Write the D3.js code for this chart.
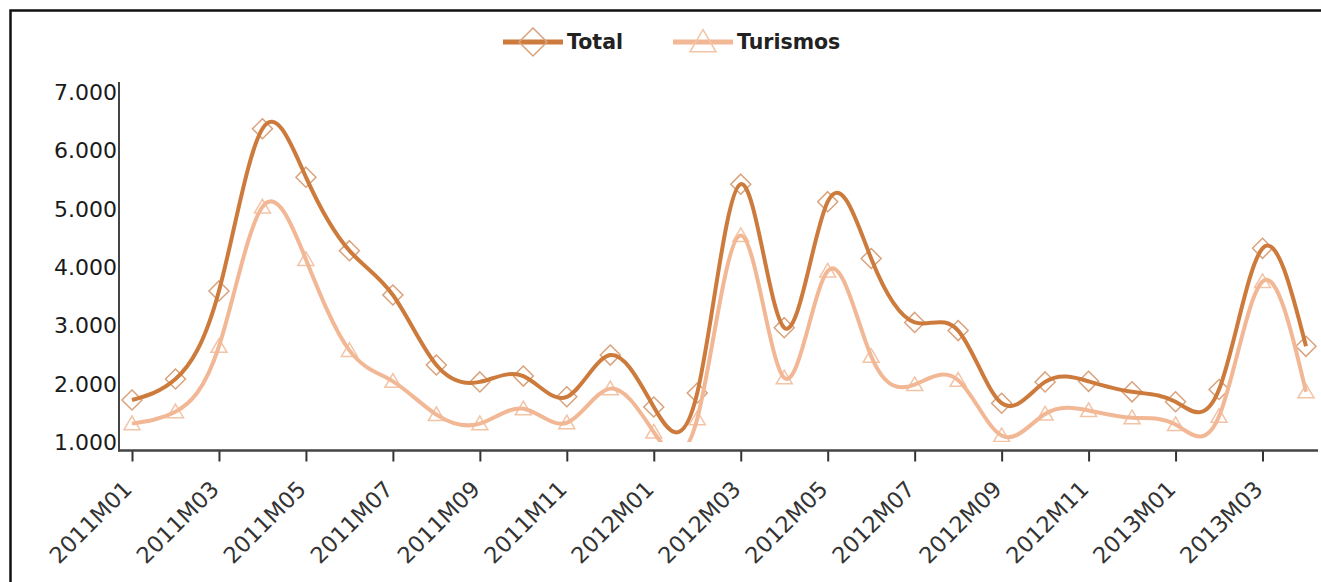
<!DOCTYPE html>
<html>
<head>
<meta charset="utf-8">
<script src="https://cdn.jsdelivr.net/npm/d3@7"></script>
<style>
  body { margin: 0; background: #fff; }
  svg { display: block; }
  text { font-family: "DejaVu Sans", Verdana, sans-serif; }
</style>
</head>
<body>
<svg id="chart" width="1321" height="582"></svg>
<script>
// datos mensuales
var months = ["2011M01","2011M02","2011M03","2011M04","2011M05","2011M06","2011M07","2011M08","2011M09","2011M10","2011M11","2011M12",
  "2012M01","2012M02","2012M03","2012M04","2012M05","2012M06","2012M07","2012M08","2012M09","2012M10","2012M11","2012M12",
  "2013M01","2013M02","2013M03","2013M04"];
var total = [1720, 2080, 3590, 6370, 5540, 4280, 3520, 2320, 2030, 2130, 1775, 2490,
  1600, 1840, 5420, 2960, 5120, 4145, 3050, 2910, 1665, 2030, 2040, 1860,
  1690, 1900, 4320, 2640];
var turismos = [1315, 1520, 2640, 5030, 4130, 2570, 2040, 1470, 1315, 1570, 1330, 1915,
  1170, 1400, 4540, 2100, 3930, 2470, 1985, 2060, 1110, 1480, 1540, 1415,
  1300, 1440, 3750, 1860];
var yTicks = [1000, 2000, 3000, 4000, 5000, 6000, 7000];
var seriesNames = ["Total", "Turismos"];

var svg = d3.select("#chart");

var x = d3.scalePoint().domain(months).range([132, 1306]);
var y = d3.scaleLinear().domain([1000, 7000]).range([442, 92]);

var fmt = function(v) { return d3.format(",")(v).replace(/,/g, "."); };

// marco
svg.append("rect")
  .attr("x", 10.5).attr("y", 10.5)
  .attr("width", 1340).attr("height", 620)
  .attr("fill", "none").attr("stroke", "#111").attr("stroke-width", 2.5);

var axisY = 450.5;

// eje y
svg.append("line")
  .attr("x1", 119).attr("x2", 119)
  .attr("y1", y(7000) - 10).attr("y2", axisY + 1)
  .attr("stroke", "#444").attr("stroke-width", 2);

svg.selectAll(".ylab")
  .data(yTicks)
  .enter().append("text")
  .attr("class", "ylab")
  .attr("x", 117)
  .attr("y", function(d) { return y(d); })
  .attr("dy", "0.36em")
  .attr("text-anchor", "end")
  .attr("font-size", 22)
  .attr("fill", "#1a1a1a")
  .text(fmt);

// eje x
var xAxis = d3.axisBottom(x)
  .tickValues(months.filter(function(d, i) { return i % 2 == 0; }))
  .tickSize(11)
  .tickSizeOuter(0);

var gx = svg.append("g")
  .attr("transform", "translate(0," + axisY + ")")
  .call(xAxis);
gx.select(".domain").remove();
gx.append("line")
  .attr("x1", 118).attr("x2", 1318)
  .attr("stroke", "#444").attr("stroke-width", 2.5);
gx.selectAll(".tick line").attr("stroke", "#333").attr("stroke-width", 2);
gx.selectAll(".tick text")
  .attr("font-size", 22.5)
  .attr("fill", "#333")
  .attr("text-anchor", "end")
  .attr("y", 0)
  .attr("dy", 0)
  .attr("transform", "translate(1,40) rotate(-45)");

// series
var series = [
  { name: seriesNames[0], values: total, line: "#cd7b3c", mark: "#d9a27c", shape: "diamond" },
  { name: seriesNames[1], values: turismos, line: "#f2b896", mark: "#f3c3a6", shape: "triangle" }
];

function shapePath(shape, s) {
  if(shape == "diamond") {
    return "M0," + (-s) + "L" + s + ",0L0," + s + "L" + (-s) + ",0Z";
  }
  return "M0," + (-s * 0.95) + "L" + s + "," + (s * 0.75) + "L" + (-s) + "," + (s * 0.75) + "Z";
}

svg.append("clipPath").attr("id", "plotclip")
  .append("rect")
  .attr("x", 120).attr("y", 60)
  .attr("width", 1200).attr("height", y(1000) - 60);

var plot = svg.append("g").attr("clip-path", "url(#plotclip)");

var line = d3.line()
  .x(function(d, i) { return x(months[i]); })
  .y(function(d) { return y(d); })
  .curve(d3.curveNatural);

series.forEach(function(s) {
  plot.selectAll(".m-" + s.shape)
    .data(s.values)
    .enter().append("path")
    .attr("class", "m-" + s.shape)
    .attr("transform", function(d, i) { return "translate(" + x(months[i]) + "," + y(d) + ")"; })
    .attr("d", shapePath(s.shape, s.shape == "diamond" ? 10 : 8))
    .attr("fill", "none")
    .attr("stroke", s.mark)
    .attr("stroke-width", 1.5);
});

series.forEach(function(s) {
  plot.append("path")
    .datum(s.values)
    .attr("d", line)
    .attr("fill", "none")
    .attr("stroke", s.line)
    .attr("stroke-width", 4)
    .attr("stroke-linejoin", "round");
});

// leyenda
var legendX = [503, 673];
var legend = svg.selectAll(".leg")
  .data(series)
  .enter().append("g")
  .attr("class", "leg")
  .attr("transform", function(d, i) { return "translate(" + legendX[i] + ",42)"; });

legend.append("line")
  .attr("x1", 0).attr("x2", 60)
  .attr("stroke", function(d) { return d.line; })
  .attr("stroke-width", 5);
legend.append("path")
  .attr("transform", "translate(30,0)")
  .attr("d", function(d) { return shapePath(d.shape, d.shape == "diamond" ? 14 : 13); })
  .attr("fill", "none")
  .attr("stroke", function(d) { return d.mark; })
  .attr("stroke-width", 1.5);
legend.append("text")
  .attr("x", 64)
  .attr("dy", "0.36em")
  .attr("font-size", 20.5)
  .attr("font-weight", "bold")
  .attr("fill", "#222")
  .text(function(d) { return d.name; });
</script>
</body>
</html>
